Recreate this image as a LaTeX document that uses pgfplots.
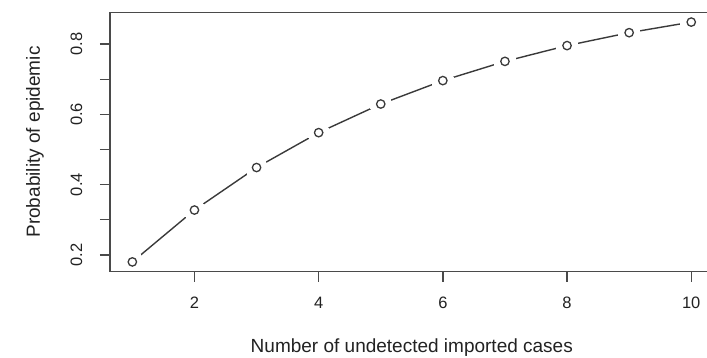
\documentclass[border=0pt]{standalone}
\usepackage{pgfplots}
\pgfplotsset{compat=1.18}
\usepackage{fontspec}
\setmainfont{Liberation Sans}
\definecolor{ln}{HTML}{3A3A3A}
\definecolor{ax}{HTML}{4A4A4A}
\definecolor{tx}{HTML}{222222}
\pgfplotstableread{
x y
1 0.1800
2 0.3276
3 0.4486
4 0.5479
5 0.6293
6 0.6960
7 0.7507
8 0.7956
9 0.8324
10 0.8625
}\probdata
\begin{document}
\begin{tikzpicture}
\path[use as bounding box, clip] (0,0) rectangle (707pt,357pt);
\begin{axis}[
  axis on top, clip marker paths=true,
  at={(110pt,85.5pt)}, anchor=south west,
  scale only axis, width=603.6pt, height=259pt,
  xmin=0.64, xmax=10.36, ymin=0.1527, ymax=0.8898,
  axis line style={ax, line width=1.3pt},
  xtick={2,4,6,8,10},
  ytick={0.2,0.4,0.6,0.8},
  minor ytick={0.3,0.5,0.7},
  xtick pos=left, ytick pos=left,
  tick align=outside,
  major tick length=10pt, minor tick length=10pt,
  every tick/.style={ax, line width=1.3pt},
  minor tick style={ax, line width=1.3pt},
  /pgf/number format/assume math mode=true,
  tick label style={font=\fontsize{16.5}{19}\selectfont, text=tx, inner sep=0pt},
  xticklabel style={anchor=north},
  yticklabel style={rotate=90, anchor=south},
  xticklabel shift=15pt,
  yticklabel shift=17.5pt,
  yticklabel={\pgfmathprintnumber[fixed,precision=1]{\tick}},
  xlabel={Number of undetected imported cases},
  ylabel={Probability of epidemic},
  xlabel style={at={(axis description cs:0.5,-0.258)}, anchor=north, font=\fontsize{19}{23}\selectfont, text=tx, inner sep=0pt},
  ylabel style={at={(axis description cs:-0.116,0.5)}, anchor=base, font=\fontsize{19}{23}\selectfont, text=tx, inner sep=0pt},
]
\addplot[ln, line width=1.4pt, mark=none] table[x=x,y=y] {\probdata};
\addplot[white, only marks, mark=*, mark size=11pt, mark options={fill=white, draw=white, line width=0pt}] table[x=x,y=y] {\probdata};
\addplot[ln, only marks, mark=o, mark size=4.2pt, mark options={draw=ln, line width=1.3pt}] table[x=x,y=y] {\probdata};
\end{axis}
\end{tikzpicture}
\end{document}
